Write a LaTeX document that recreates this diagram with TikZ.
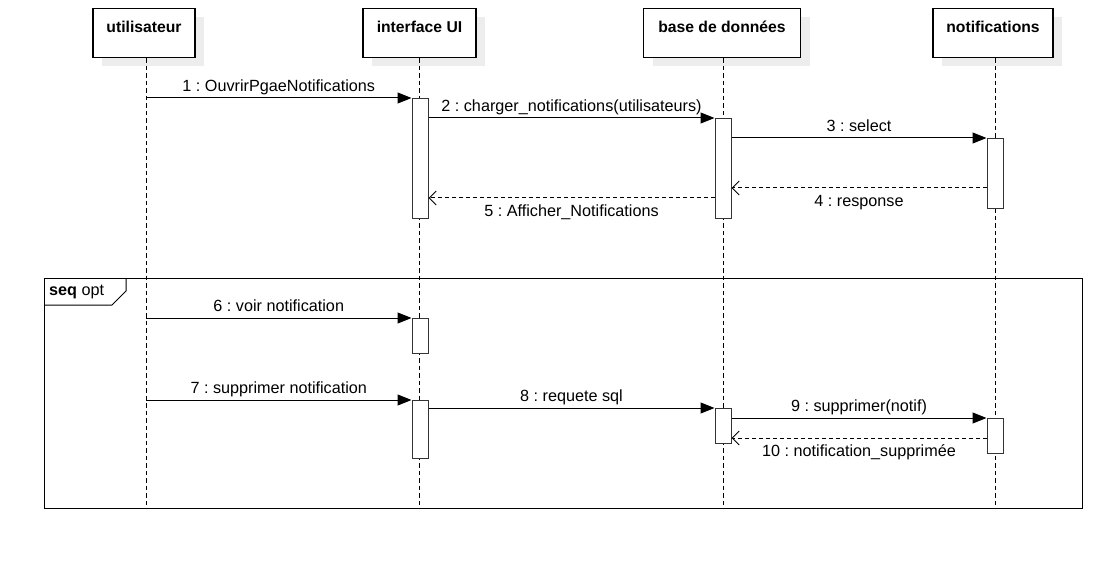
\documentclass[tikz,border=0pt]{standalone}
\usepackage{fontspec}
\setmainfont{Liberation Sans}
\usetikzlibrary{arrows.meta,shadows}
\frenchspacing
\begin{document}
\begin{tikzpicture}[x=1pt,y=-1pt,
  every node/.style={font=\fontsize{16.2}{19}\selectfont},
  head/.style={draw=black, line width=1.2pt, fill=white, minimum width=102pt,
    inner ysep=0pt, text height=23.5pt, text depth=25.5pt, anchor=north,
    font=\fontsize{15.7}{18}\selectfont\bfseries,
    drop shadow={shadow xshift=9pt, shadow yshift=-8pt, fill=black!7, opacity=1, draw=none}},
  life/.style={line width=1pt, dash pattern=on 4.5pt off 3pt},
  act/.style={draw=black!80, fill=white, line width=1pt, minimum width=16pt, anchor=north, inner sep=0pt},
  sync/.style={line width=1pt, -{Triangle[length=14pt,width=11pt]}},
  ret/.style={line width=1pt, dash pattern=on 4pt off 3pt, -{Straight Barb[length=7pt,width=14pt,line width=1pt]}},
  lababove/.style={midway, anchor=base, yshift=6.5pt, inner sep=0pt},
  labbelow/.style={midway, anchor=base, yshift=-18.5pt, inner sep=0pt}
]
\useasboundingbox (0,0) rectangle (1120,567);
\fill[white] (0,0) rectangle (1120,567);

% heads
\node[head] (hU) at (144,8) {utilisateur};
\node[head, minimum width=113pt] (hI) at (419.5,8) {interface UI};
\node[head, minimum width=157pt] (hB) at (722,8) {base de données};
\node[head, minimum width=120pt] (hN) at (993,8) {notifications};

\coordinate (bot) at (0,505);
\draw[life] ([xshift=2pt]hU.south) -- ([xshift=2pt]hU.south |- bot);
\draw[life] (hI.south) -- (hI.south |- bot);
\draw[life] ([xshift=1pt]hB.south) -- ([xshift=1pt]hB.south |- bot);
\draw[life] ([xshift=2pt]hN.south) -- ([xshift=2pt]hN.south |- bot);

% frame
\node[draw=black, line width=1pt, minimum width=1038pt, minimum height=230pt,
  anchor=north west, inner sep=0pt] (frame) at (44,278) {};
\draw[line width=1pt] (frame.north west) ++(0,27) -- ++(68,0) -- ++(14,-14) -- ++(0,-13);
\node[anchor=west, inner sep=0pt] (seqlab) at (49,292) {\textbf{seq} opt};

% activations
\node[act, minimum height=120pt] (aI1) at (420,98) {};
\node[act, minimum height=100pt] (aB1) at (723,118) {};
\node[act, minimum height=70pt] (aN1) at (995,138) {};
\node[act, minimum height=35pt] (aI2) at (420,318) {};
\node[act, minimum height=58pt] (aI3) at (420,400) {};
\node[act, minimum height=35pt] (aB2) at (723,408) {};
\node[act, minimum height=35pt] (aN2) at (995,418) {};

\coordinate (uL) at (146,0);
\coordinate (m4) at (0,188);
\coordinate (m5) at (0,198);
\coordinate (m10) at (0,438);

% messages
\draw[sync] (uL |- aI1.north) -- (aI1.north west) node[lababove] (l1) {1 : OuvrirPgaeNotifications};
\draw[sync] (aI1.east |- aB1.north) -- (aB1.north west) node[lababove] (l2) {2 : charger\_notifications(utilisateurs)};
\draw[sync] (aB1.east |- aN1.north) -- (aN1.north west) node[lababove] (l3) {3 : select};
\draw[ret] (aN1.west |- m4) -- (aB1.east |- m4) node[labbelow] (l4) {4 : response};
\draw[ret] (aB1.west |- m5) -- (aI1.east |- m5) node[labbelow] (l5) {5 : Afficher\_Notifications};
\draw[sync] (uL |- aI2.north) -- (aI2.north west) node[lababove] (l6) {6 : voir notification};
\draw[sync] (uL |- aI3.north) -- (aI3.north west) node[lababove] (l7) {7 : supprimer notification};
\draw[sync] (aI3.east |- aB2.north) -- (aB2.north west) node[lababove] (l8) {8 : requete sql};
\draw[sync] (aB2.east |- aN2.north) -- (aN2.north west) node[lababove] (l9) {9 : supprimer(notif)};
\draw[ret] (aN2.west |- m10) -- (aB2.east |- m10) node[labbelow] (l10) {10 : notification\_supprimée};
\end{tikzpicture}
\end{document}
